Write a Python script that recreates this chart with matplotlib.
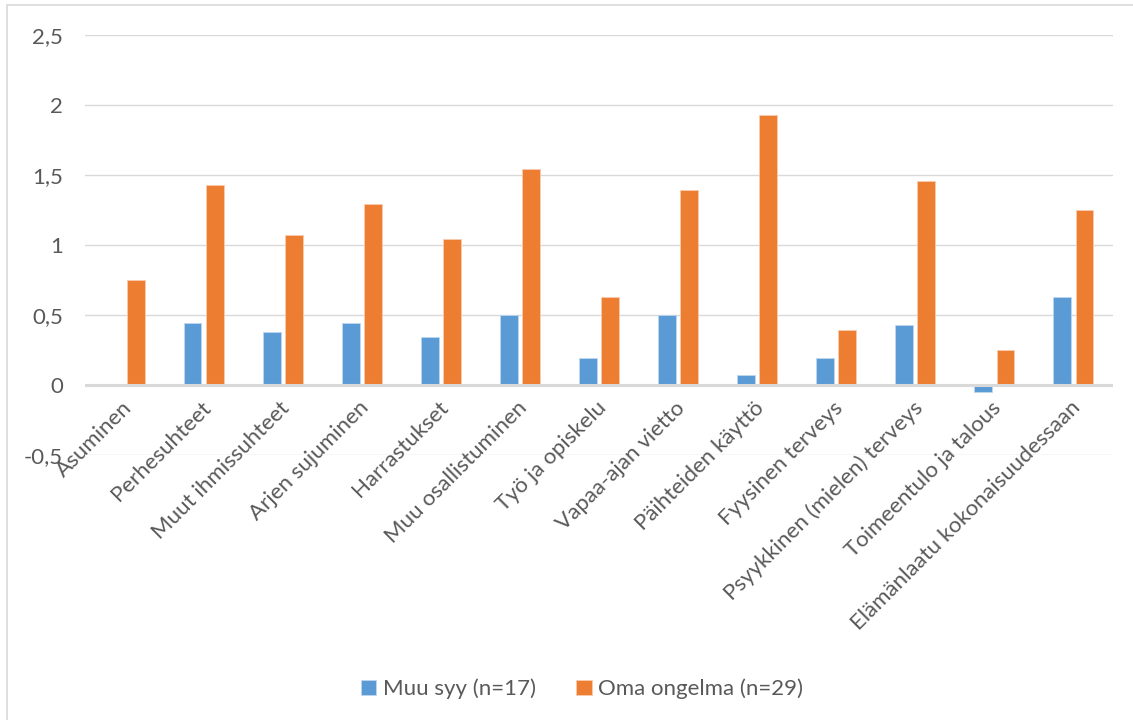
import matplotlib
matplotlib.use("Agg")
import matplotlib.pyplot as plt
import numpy as np
from matplotlib.patches import Rectangle

categories = ["Asuminen", "Perhesuhteet", "Muut ihmissuhteet", "Arjen sujuminen",
              "Harrastukset", "Muu osallistuminen", "Työ ja opiskelu",
              "Vapaa-ajan vietto", "Päihteiden käyttö", "Fyysinen terveys",
              "Psyykkinen (mielen) terveys", "Toimeentulo ja talous",
              "Elämänlaatu kokonaisuudessaan"]
muu_syy = [0.0, 0.44, 0.38, 0.44, 0.34, 0.50, 0.19, 0.50, 0.07, 0.19, 0.43, -0.05, 0.63]
oma_ongelma = [0.75, 1.43, 1.07, 1.29, 1.04, 1.54, 0.63, 1.39, 1.93, 0.39, 1.46, 0.25, 1.25]
series_names = ["Muu syy (n=17)", "Oma ongelma (n=29)"]
yticks = [-0.5, 0, 0.5, 1, 1.5, 2, 2.5]
ytick_labels = ["-0,5", "0", "0,5", "1", "1,5", "2", "2,5"]

plt.rcParams['font.family'] = ['Lato', 'DejaVu Sans']
txt = "#595959"
grid = "#D9D9D9"
blue = "#5B9BD5"
orange = "#ED7D31"
fs = 16

fig = plt.figure(figsize=(11.33, 7.2), dpi=100)
ax = fig.add_axes([85/1133, 1-455/720, (1113-85)/1133, (455-35)/720])

x = np.arange(len(categories))
w = 0.225
off = 0.14
ax.bar(x - off, muu_syy, w, color=blue, edgecolor="#BDD7EE", linewidth=0.6, zorder=3, label=series_names[0])
ax.bar(x + off, oma_ongelma, w, color=orange, edgecolor="#F8CBAD", linewidth=0.6, zorder=3, label=series_names[1])

ax.set_xlim(-0.5, len(categories) - 0.5)
ax.set_ylim(-0.5, 2.5)
ax.set_yticks(yticks)
ax.set_yticklabels(ytick_labels, fontsize=fs, color=txt)
ax.tick_params(axis='y', length=0, pad=16)
ax.set_xticks([])
for s in ax.spines.values():
    s.set_visible(False)
for yv in yticks:
    if yv == 0:
        ax.axhline(0, color=grid, lw=2.2, zorder=4)
    else:
        ax.axhline(yv, color=grid, lw=1.0, zorder=1)

for i, c in enumerate(categories):
    ax.text(i - 0.04, -0.09, c, rotation=45, ha='right', va='top',
            rotation_mode='anchor', fontsize=fs, color=txt, zorder=5)

# chart border
fig.patches.append(Rectangle((7/1133, -0.01), 1.1, 1 - 5/720 + 0.01, transform=fig.transFigure,
                             fill=False, edgecolor=grid, lw=1.2))

leg = fig.legend(loc='center', bbox_to_anchor=(582/1133, 1 - 689/720), ncol=2, frameon=False,
                 fontsize=fs, handlelength=0.7, handleheight=0.7, handletextpad=0.3,
                 columnspacing=1.8)
for t in leg.get_texts():
    t.set_color(txt)

fig.savefig("out.png", dpi=100)
